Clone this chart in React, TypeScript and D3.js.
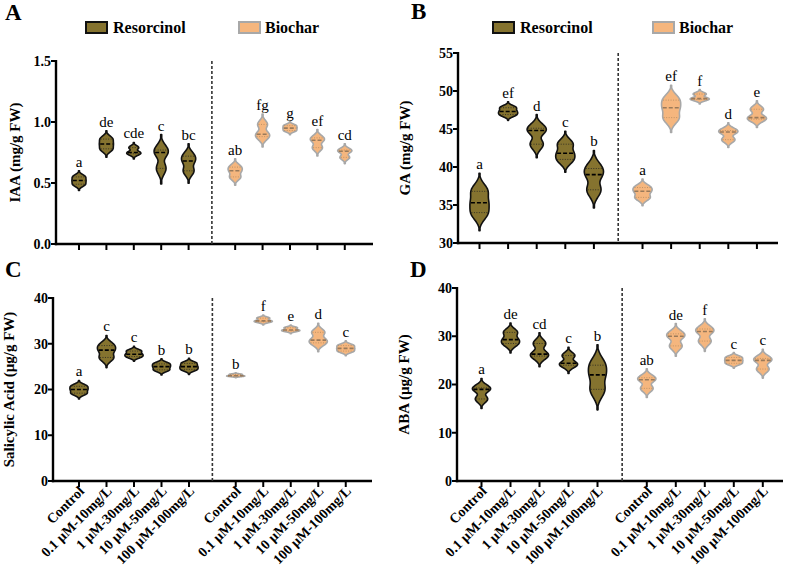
import React from 'react';
import * as d3 from 'd3';

// ---------- data ----------
const treatments = ['Control', '0.1 µM-10mg/L', '1 µM-30mg/L', '10 µM-50mg/L', '100 µM-100mg/L'];
const seriesNames = ['Resorcinol', 'Biochar'];

// replicate values per treatment
const iaaResorcinol = [[0.49, 0.52, 0.55], [0.78, 0.82, 0.86], [0.74, 0.75, 0.79], [0.62, 0.75, 0.77], [0.60, 0.68, 0.72]];
const iaaBiochar = [[0.55, 0.60, 0.63], [0.88, 0.90, 0.98], [0.93, 0.95, 0.97], [0.79, 0.85, 0.87], [0.71, 0.76, 0.77]];
const iaaLetters = ['a', 'de', 'cde', 'c', 'bc', 'ab', 'fg', 'g', 'ef', 'cd'];
const iaaTicks = [0, 0.5, 1.0, 1.5];

const gaResorcinol = [[34.0, 35.3, 36.8], [46.9, 47.3, 47.8], [43.0, 44.8, 45.1], [41.0, 41.8, 43.0], [37.0, 39.0, 39.8]];
const gaBiochar = [[36.0, 36.8, 37.3], [46.5, 47.8, 48.8], [48.9, 49.0, 49.6], [43.6, 44.6, 44.8], [46.3, 46.5, 47.6]];
const gaLetters = ['a', 'ef', 'd', 'c', 'b', 'a', 'ef', 'f', 'd', 'e'];
const gaTicks = [30, 35, 40, 45, 50, 55];

const saResorcinol = [[19.2, 20.0, 20.7], [27.0, 28.6, 29.6], [27.2, 27.7, 28.4], [24.3, 25.0, 25.6], [24.4, 25.0, 25.7]];
const saBiochar = [[22.9, 23.0, 23.3], [34.8, 35.0, 35.6], [32.8, 33.0, 33.5], [30.2, 30.8, 32.5], [28.4, 29.0, 29.6]];
const saLetters = ['a', 'c', 'c', 'b', 'b', 'b', 'f', 'e', 'd', 'c'];
const saTicks = [0, 10, 20, 30, 40];

const abaResorcinol = [[17.0, 19.0, 19.3], [28.5, 29.3, 30.8], [25.9, 26.3, 28.5], [24.0, 24.4, 26.0], [19.0, 22.0, 24.0]];
const abaBiochar = [[19.2, 21.0, 21.4], [28.0, 30.0, 30.5], [29.0, 31.0, 31.5], [24.4, 25.0, 25.6], [23.2, 25.0, 25.4]];
const abaLetters = ['a', 'de', 'cd', 'c', 'b', 'ab', 'de', 'f', 'c', 'c'];
const abaTicks = [0, 10, 20, 30, 40];

// ---------- styles ----------
const FONT = "'Liberation Serif', 'Times New Roman', Times, serif";
const RES_FILL = '#85732f';
const RES_STROKE = '#111111';
const BIO_FILL = '#f5b67e';
const BIO_STROKE = '#a8a8a8';

type Panel = {
  label: string; title: string; res: number[][]; bio: number[][]; letters: string[];
  domain: [number, number]; ticks: number[]; fmt: string;
  axisX: number; axisEnd: number; yTop: number; yBot: number; x0: number; sp: number; halfW: number;
  legend: boolean; xLabels: boolean; labelX: number; labelY: number; titleX: number;
  legResX: number; legBioX: number;
};

const panels: Panel[] = [
  { label: 'A', title: 'IAA (mg/g FW)', res: iaaResorcinol, bio: iaaBiochar, letters: iaaLetters,
    domain: [0, 1.5], ticks: iaaTicks, fmt: '.1f', axisX: 56, axisEnd: 373, yTop: 61, yBot: 244,
    x0: 79, sp: 27.4, halfW: 7.5, legend: true, xLabels: false, labelX: 5, labelY: 20, titleX: 20,
    legResX: 86, legBioX: 239 },
  { label: 'B', title: 'GA (mg/g FW)', res: gaResorcinol, bio: gaBiochar, letters: gaLetters,
    domain: [30, 55], ticks: gaTicks, fmt: 'd', axisX: 458, axisEnd: 778, yTop: 53, yBot: 243,
    x0: 479.5, sp: 28.6, halfW: 10, legend: true, xLabels: false, labelX: 411, labelY: 19, titleX: 410,
    legResX: 493, legBioX: 653 },
  { label: 'C', title: 'Salicylic Acid (µg/g FW)', res: saResorcinol, bio: saBiochar, letters: saLetters,
    domain: [0, 40], ticks: saTicks, fmt: 'd', axisX: 53, axisEnd: 372, yTop: 298, yBot: 481,
    x0: 79, sp: 27.5, halfW: 9.5, legend: false, xLabels: true, labelX: 5, labelY: 277, titleX: 14,
    legResX: 0, legBioX: 0 },
  { label: 'D', title: 'ABA (µg/g FW)', res: abaResorcinol, bio: abaBiochar, letters: abaLetters,
    domain: [0, 40], ticks: abaTicks, fmt: 'd', axisX: 457, axisEnd: 783, yTop: 288, yBot: 481,
    x0: 481.5, sp: 29, halfW: 9.5, legend: false, xLabels: true, labelX: 410, labelY: 277, titleX: 409,
    legResX: 0, legBioX: 0 },
];

const BIO_OFFSET = 5.7;
const DIVIDER = 4.85;
const FULLNESS = 0.55;
const EXT = 3.4;
const BW = 0.25;

function kde(vals: number[]) {
  const mn = d3.min(vals)!, mx = d3.max(vals)!;
  const h = Math.max((mx - mn) * BW, 1e-6);
  const dens = (y: number) => d3.sum(vals, v => Math.exp(-0.5 * ((y - v) / h) ** 2));
  const lo = mn - EXT * h, hi = mx + EXT * h;
  const n = 110;
  const pts = d3.range(n + 1).map(i => {
    const y = lo + ((hi - lo) * i) / n;
    return { y, d: dens(y) };
  });
  const dmax = d3.max(pts, p => p.d)!;
  return { pts, dmax, dens, h, mn, mx };
}

function Violin({ vals, cx, y, halfW, fill, stroke, medianColor, quartColor }: any) {
  const { pts, dmax, dens } = kde(vals);
  const wOf = (d: number) => halfW * Math.pow(d / dmax, FULLNESS);
  const widths = pts.map(p => ({ y: p.y, w: Math.max(wOf(p.d) - 0.4, 0.5) }));
  const area = d3.area<{ y: number; w: number }>()
    .x0(p => cx - p.w).x1(p => cx + p.w).y(p => y(p.y))
    .curve(d3.curveCatmullRom);
  const sorted = [...vals].sort((a, b) => a - b);
  const med = d3.median(sorted)!;
  const q1 = sorted[0];
  const q3 = sorted[sorted.length - 1];
  const wAt = (v: number) => Math.max(wOf(dens(v)) - 1.3, 1);
  return (
    <g>
      <path d={area(widths) || ''} fill={fill} stroke={stroke} strokeWidth={1.6} strokeLinejoin="round" />
      {[q1, q3].map((q, i) => (
        <line key={i} x1={cx - wAt(q)} x2={cx + wAt(q)} y1={y(q)} y2={y(q)}
          stroke={quartColor} strokeWidth={0.8} strokeDasharray="1,1.5" />
      ))}
      <line x1={cx - wAt(med)} x2={cx + wAt(med)} y1={y(med)} y2={y(med)}
        stroke={medianColor} strokeWidth={1.6} strokeDasharray="4,2" />
    </g>
  );
}

function PanelView({ p }: { p: Panel }) {
  const y = d3.scaleLinear().domain(p.domain).range([p.yBot, p.yTop]);
  const x = d3.scaleLinear().domain([0, 1]).range([p.x0, p.x0 + p.sp]);
  const fmt = d3.format(p.fmt);
  const groups = [
    ...p.res.map((v, i) => ({ vals: v, pos: i, bio: false, t: treatments[i] })),
    ...p.bio.map((v, i) => ({ vals: v, pos: BIO_OFFSET + i, bio: true, t: treatments[i] })),
  ];
  const midY = (p.yTop + p.yBot) / 2;
  return (
    <g>
      <text x={p.labelX} y={p.labelY} fontFamily={FONT} fontWeight="bold" fontSize={23}>{p.label}</text>
      {p.legend && (
        <g fontFamily={FONT} fontWeight="bold" fontSize={16}>
          <rect x={p.legResX} y={22} width={21} height={11} fill={RES_FILL} stroke={RES_STROKE} strokeWidth={2} />
          <text x={p.legResX + 27} y={33}>{seriesNames[0]}</text>
          <rect x={p.legBioX} y={22} width={21} height={11} fill={BIO_FILL} stroke={BIO_STROKE} strokeWidth={2} />
          <text x={p.legBioX + 26} y={33}>{seriesNames[1]}</text>
        </g>
      )}
      {/* y title */}
      <text transform={`translate(${p.titleX},${midY}) rotate(-90)`} textAnchor="middle"
        fontFamily={FONT} fontWeight="bold" fontSize={15}>{p.title}</text>
      {/* y axis */}
      <line x1={p.axisX} x2={p.axisX} y1={p.yTop - 1} y2={p.yBot + 1.2} stroke="#000" strokeWidth={2.4} />
      {p.ticks.map(t => (
        <g key={t}>
          <line x1={p.axisX - 5} x2={p.axisX} y1={y(t)} y2={y(t)} stroke="#000" strokeWidth={2} />
          <text x={p.axisX - 5} y={y(t)} dy="0.35em" textAnchor="end" fontFamily={FONT}
            fontWeight="bold" fontSize={14}>{fmt(t)}</text>
        </g>
      ))}
      {/* x axis */}
      <line x1={p.axisX - 1.2} x2={p.axisEnd} y1={p.yBot} y2={p.yBot} stroke="#000" strokeWidth={2.4} />
      {groups.map((g, i) => (
        <line key={i} x1={x(g.pos)} x2={x(g.pos)} y1={p.yBot} y2={p.yBot + 6} stroke="#000" strokeWidth={2} />
      ))}
      {/* divider */}
      <line x1={x(DIVIDER)} x2={x(DIVIDER)} y1={p.yTop} y2={p.yBot} stroke="#333" strokeWidth={1.6}
        strokeDasharray="3,2" />
      {/* violins */}
      {groups.map((g, i) => (
        <Violin key={i} vals={g.vals} cx={x(g.pos)} y={y} halfW={p.halfW}
          fill={g.bio ? BIO_FILL : RES_FILL} stroke={g.bio ? BIO_STROKE : RES_STROKE}
          medianColor={g.bio ? '#9a7a5a' : '#000'} quartColor={g.bio ? '#b08a60' : '#222'} />
      ))}
      {/* letters */}
      {groups.map((g, i) => {
        const k = kde(g.vals);
        const top = y(k.mx + EXT * k.h);
        return (
          <text key={i} x={x(g.pos)} y={top - 4} textAnchor="middle" fontFamily={FONT} fontSize={15}>
            {p.letters[i]}
          </text>
        );
      })}
      {/* x labels */}
      {p.xLabels && groups.map((g, i) => (
        <text key={i} transform={`translate(${x(g.pos) + 6},${p.yBot + 11}) rotate(-45)`} textAnchor="end"
          fontFamily={FONT} fontWeight="bold" fontSize={14}>{g.t}</text>
      ))}
    </g>
  );
}

export default function App() {
  return (
    <svg width={791} height={572} viewBox="0 0 791 572"
      style={{ position: 'absolute', left: 0, top: 0, background: '#fff' }}>
      <rect width={791} height={572} fill="#fff" />
      {panels.map(p => <PanelView key={p.label} p={p} />)}
    </svg>
  );
}
